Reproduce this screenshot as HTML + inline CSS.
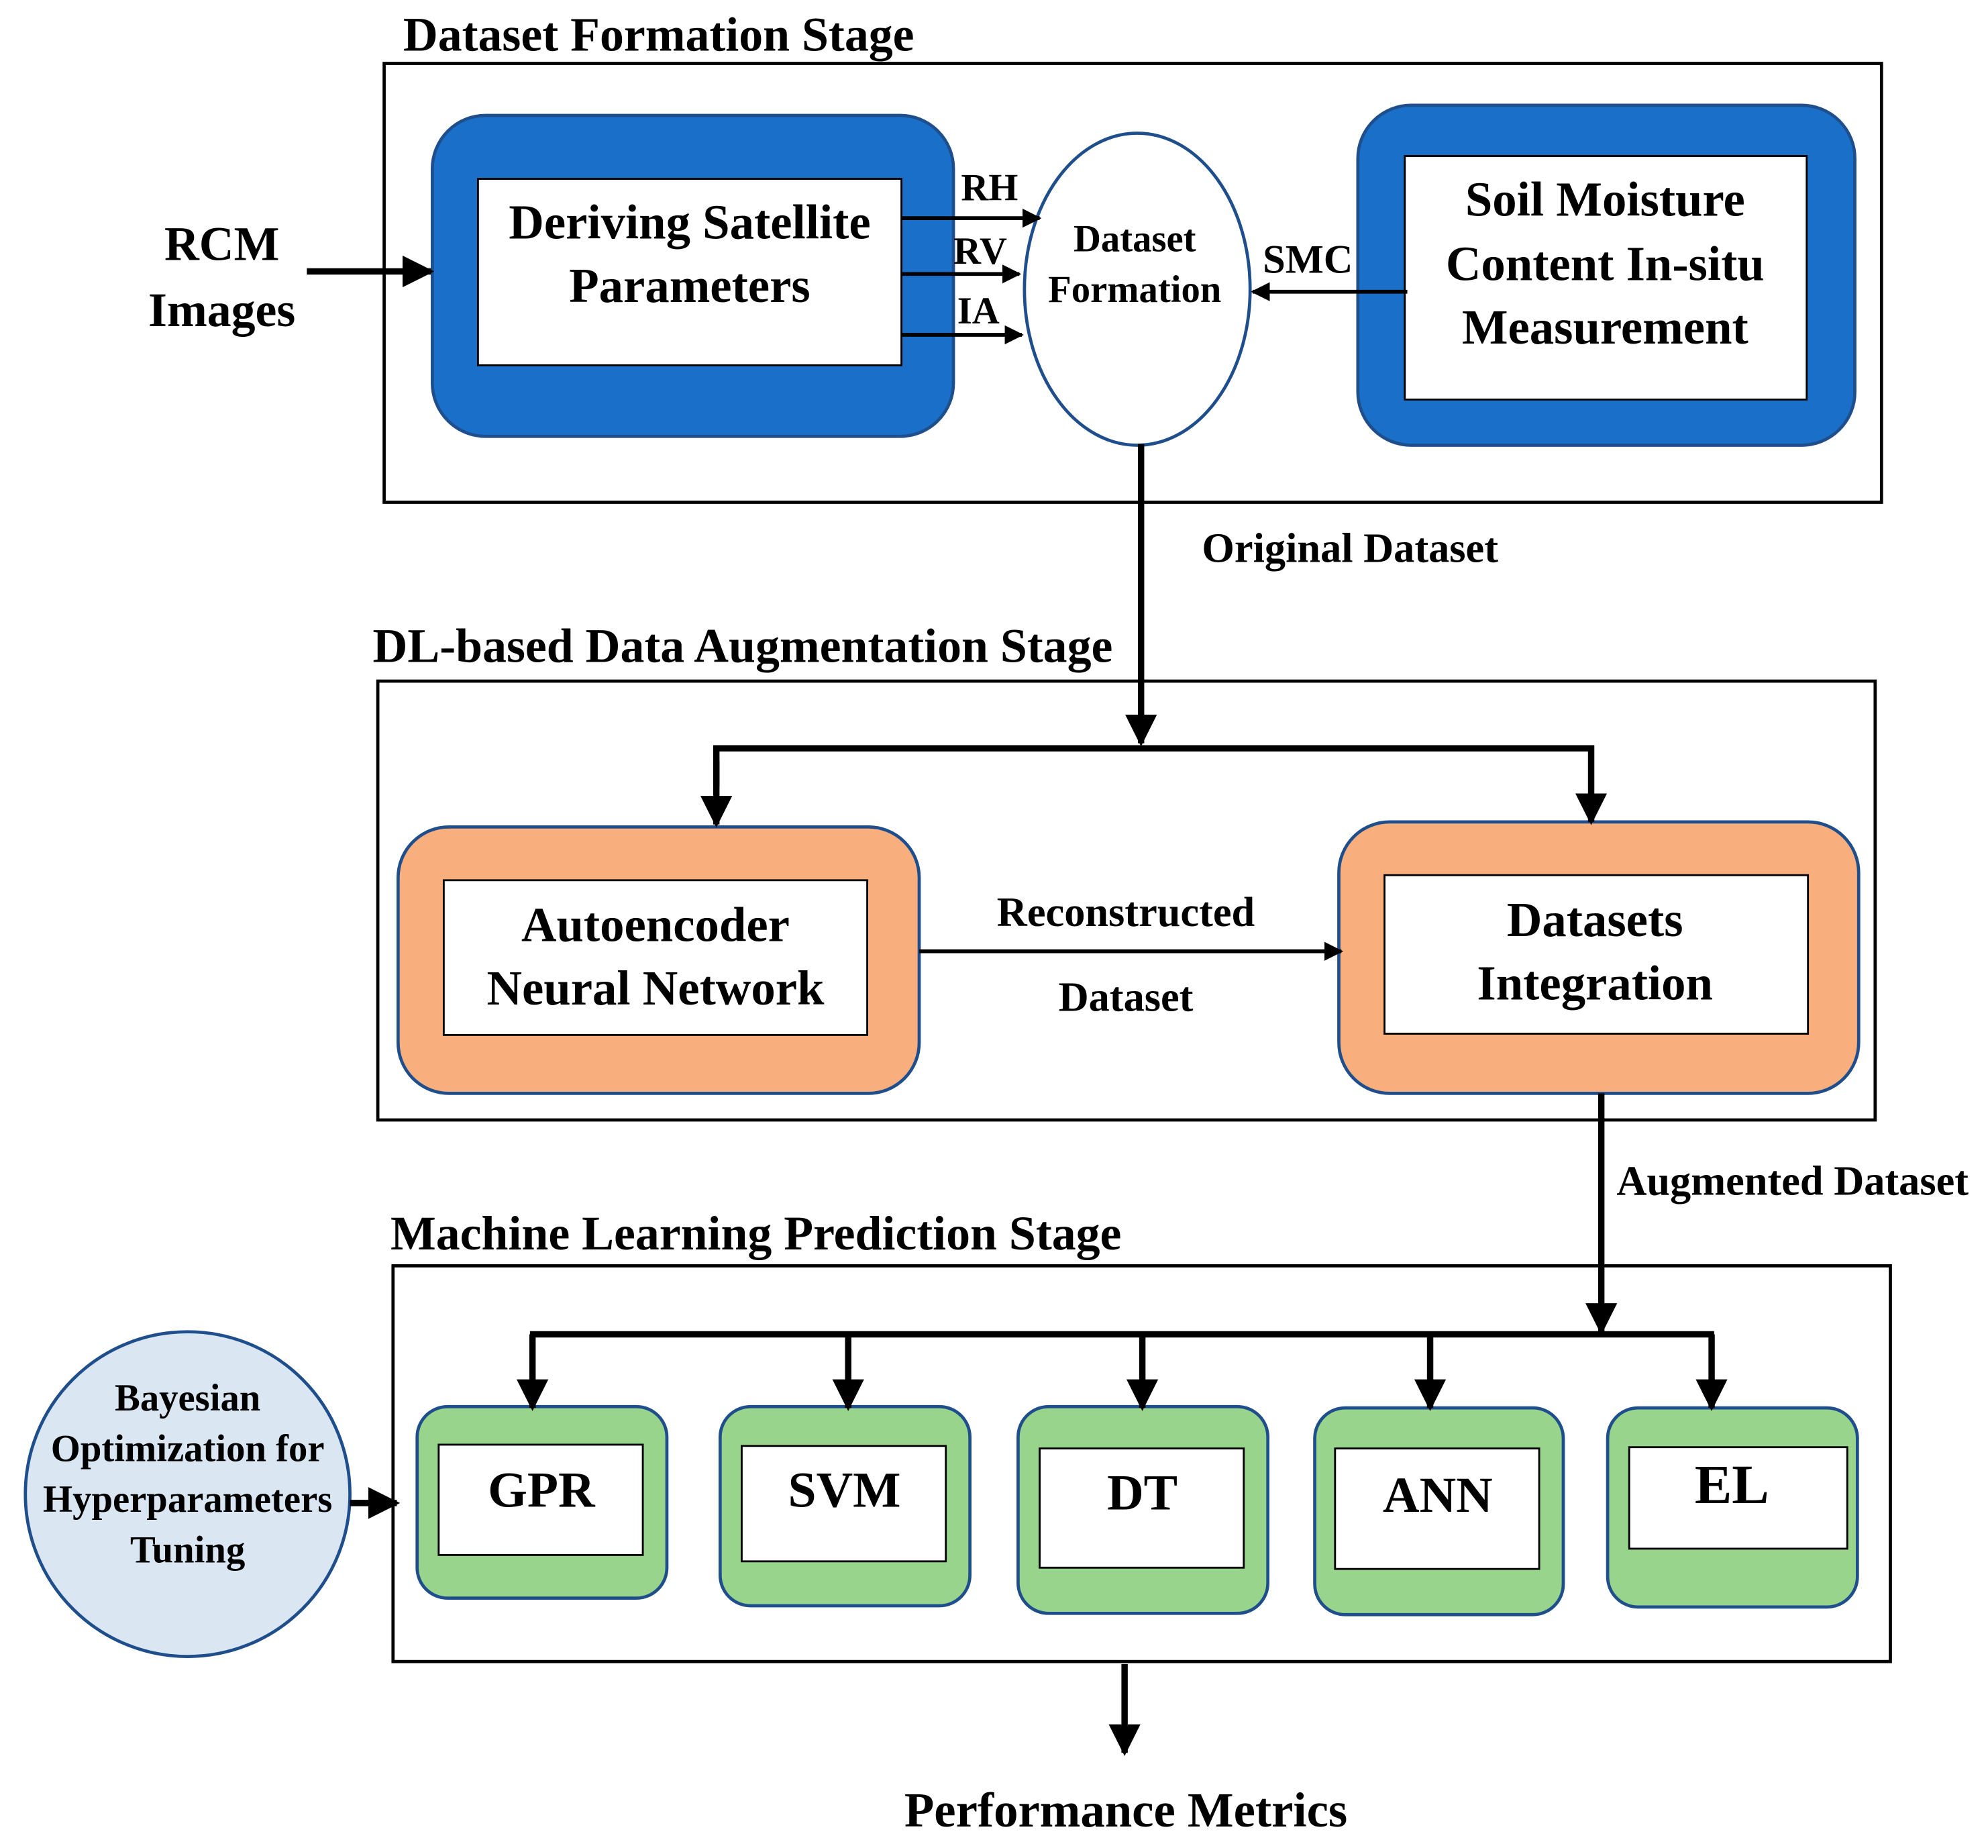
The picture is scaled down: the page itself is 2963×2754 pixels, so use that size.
<!DOCTYPE html>
<html><head><meta charset="utf-8"><style>html,body{margin:0;padding:0;background:#fff}svg{display:block}text{font-family:"Liberation Serif",serif;font-weight:bold;fill:#000}</style></head><body>
<svg width="2963" height="2754" viewBox="0 0 1568 1457" preserveAspectRatio="none" xmlns="http://www.w3.org/2000/svg">
<defs><marker id="a" viewBox="0 0 10 10" refX="9" refY="5" markerWidth="5" markerHeight="5" orient="auto" markerUnits="strokeWidth"><path d="M0,0 L10,5 L0,10 z" fill="#000"/></marker>
<marker id="b" viewBox="0 0 10 10" refX="9" refY="5" markerWidth="5" markerHeight="5" orient="auto" markerUnits="strokeWidth"><path d="M0,0 L10,5 L0,10 z" fill="#000"/></marker></defs>
<g fill="none" stroke="#000" stroke-width="2.5">
<rect x="303" y="50" width="1181" height="346"/><rect x="298" y="537" width="1181" height="346"/><rect x="310" y="998" width="1181" height="312"/></g>
<text x="318" y="40" font-size="38">Dataset Formation Stage</text>
<text x="294" y="522" font-size="38">DL-based Data Augmentation Stage</text>
<text x="308" y="985" font-size="38">Machine Learning Prediction Stage</text>
<g stroke="#1f4e8c" stroke-width="2.5">
<rect x="341" y="91" width="411" height="253" rx="42" fill="#1a70c8"/><rect x="1071" y="83" width="392" height="268" rx="42" fill="#1a70c8"/>
<rect x="314" y="652" width="411" height="210" rx="40" fill="#f9ae7e"/><rect x="1056" y="648" width="410" height="214" rx="40" fill="#f9ae7e"/>
<rect x="329" y="1109" width="197" height="151" rx="24" fill="#98d48b"/><rect x="568" y="1109" width="197" height="157" rx="24" fill="#98d48b"/>
<rect x="803" y="1109" width="197" height="163" rx="24" fill="#98d48b"/><rect x="1037" y="1110" width="196" height="163" rx="24" fill="#98d48b"/>
<rect x="1268" y="1110" width="197" height="157" rx="24" fill="#98d48b"/>
<ellipse cx="897" cy="228" rx="89" ry="123" fill="#fff"/><circle cx="148" cy="1178" r="128" fill="#dae6f2"/></g>
<g fill="#fff" stroke="#000" stroke-width="1.5">
<rect x="377" y="141" width="334" height="147"/><rect x="1108" y="123" width="317" height="192"/>
<rect x="350" y="694" width="334" height="122"/><rect x="1092" y="690" width="334" height="125"/>
<rect x="346" y="1139" width="161" height="87"/><rect x="585" y="1140" width="161" height="91"/><rect x="820" y="1142" width="161" height="94"/><rect x="1053" y="1142" width="161" height="95"/><rect x="1285" y="1141" width="172" height="80"/></g>
<g stroke="#000" stroke-width="3" fill="none" marker-end="url(#a)">
<line x1="711" y1="172" x2="820" y2="172"/><line x1="711" y1="216" x2="804" y2="216"/><line x1="711" y1="264" x2="806" y2="264"/>
<line x1="1110" y1="230" x2="988" y2="230"/><line x1="725" y1="750" x2="1058" y2="750"/></g>
<g stroke="#000" stroke-width="5" fill="none" marker-end="url(#b)">
<line x1="242" y1="214" x2="340" y2="214"/><line x1="900" y1="350" x2="900" y2="586"/>
<polyline points="565,620 565,590 1255,590 1255,648"/><line x1="565" y1="600" x2="565" y2="650"/>
<line x1="1263" y1="862" x2="1263" y2="1050"/>
<line x1="420" y1="1052" x2="420" y2="1110"/><line x1="669" y1="1052" x2="669" y2="1110"/><line x1="901" y1="1052" x2="901" y2="1110"/><line x1="1128" y1="1052" x2="1128" y2="1110"/><line x1="1350" y1="1052" x2="1350" y2="1110"/>
<line x1="276" y1="1185" x2="313" y2="1185"/><line x1="887" y1="1312" x2="887" y2="1382"/></g>
<line x1="418" y1="1052" x2="1352" y2="1052" stroke="#000" stroke-width="5"/>
<g text-anchor="middle">
<text x="175" y="205" font-size="38">RCM</text><text x="175" y="257" font-size="38">Images</text>
<text x="544" y="188" font-size="38.5">Deriving Satellite</text><text x="544" y="238" font-size="38.5">Parameters</text>
<text x="895" y="198" font-size="30">Dataset</text><text x="895" y="238" font-size="30">Formation</text>
<text x="1266" y="170" font-size="38.5">Soil Moisture</text><text x="1266" y="221" font-size="38.5">Content In-situ</text><text x="1266" y="271" font-size="38.5">Measurement</text>
<text x="517" y="742" font-size="38.5">Autoencoder</text><text x="517" y="792" font-size="38.5">Neural Network</text>
<text x="1258" y="738" font-size="38.5">Datasets</text><text x="1258" y="788" font-size="38.5">Integration</text>
<text x="888" y="730" font-size="33">Reconstructed</text><text x="888" y="797" font-size="33">Dataset</text>
<text x="427" y="1188" font-size="40">GPR</text><text x="666" y="1188" font-size="40">SVM</text><text x="901" y="1190" font-size="40">DT</text><text x="1134" y="1192" font-size="40">ANN</text><text x="1366" y="1185" font-size="44">EL</text>
<text x="148" y="1112" font-size="30">Bayesian</text><text x="148" y="1152" font-size="30">Optimization for</text><text x="148" y="1192" font-size="30">Hyperparameters</text><text x="148" y="1232" font-size="30">Tuning</text>
<text x="888" y="1440" font-size="38.5">Performance Metrics</text></g>
<text x="758" y="158" font-size="30">RH</text><text x="752" y="208" font-size="30">RV</text><text x="755" y="255" font-size="30">IA</text><text x="996" y="215" font-size="32">SMC</text>
<text x="948" y="443" font-size="33">Original Dataset</text><text x="1275" y="942" font-size="33">Augmented Dataset</text>
</svg></body></html>
